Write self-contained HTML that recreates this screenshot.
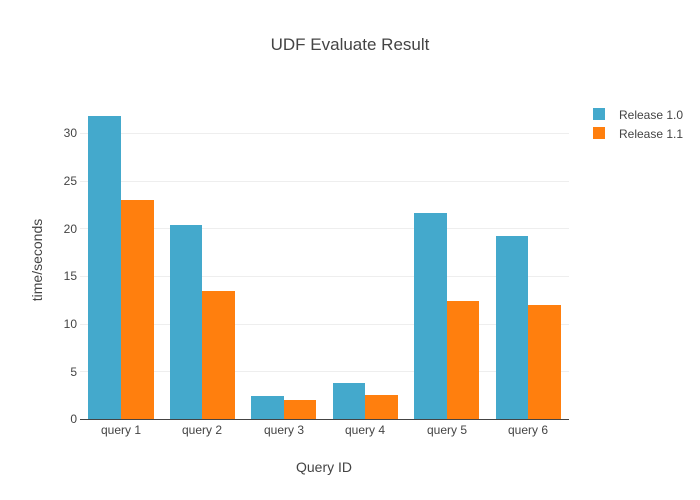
<!DOCTYPE html>
<html><head><style>body{margin:0;background:#fff}svg{display:block;font-family:"Liberation Sans",sans-serif}</style></head>
<body>
<svg width="700" height="500" xmlns="http://www.w3.org/2000/svg">
<rect width="700" height="500" fill="#fff"/>
<g stroke="#eee" stroke-width="1">
<line x1="80" x2="569" y1="371.5" y2="371.5"/>
<line x1="80" x2="569" y1="324.5" y2="324.5"/>
<line x1="80" x2="569" y1="276.5" y2="276.5"/>
<line x1="80" x2="569" y1="228.5" y2="228.5"/>
<line x1="80" x2="569" y1="181.5" y2="181.5"/>
<line x1="80" x2="569" y1="133.5" y2="133.5"/>
</g>
<g fill="#44a9cc">
<rect x="88" y="116" width="33" height="304"/>
<rect x="170" y="225" width="32" height="195"/>
<rect x="251" y="396" width="33" height="24"/>
<rect x="333" y="383" width="32" height="37"/>
<rect x="414" y="213" width="33" height="207"/>
<rect x="496" y="236" width="32" height="184"/>
</g>
<g fill="#ff7f0e">
<rect x="121" y="200" width="33" height="220"/>
<rect x="202" y="291" width="33" height="129"/>
<rect x="284" y="400" width="32" height="20"/>
<rect x="365" y="395" width="33" height="25"/>
<rect x="447" y="301" width="32" height="119"/>
<rect x="528" y="305" width="33" height="115"/>
</g>
<line x1="80" x2="569" y1="419.5" y2="419.5" stroke="#444" stroke-width="1"/>
<g font-size="12" fill="#444" text-anchor="end">
<text x="77" y="423">0</text><text x="77" y="376">5</text><text x="77" y="328">10</text>
<text x="77" y="280">15</text><text x="77" y="233">20</text><text x="77" y="185">25</text><text x="77" y="137">30</text>
</g>
<g font-size="12" fill="#444" text-anchor="middle">
<text x="121" y="434">query 1</text><text x="202" y="434">query 2</text><text x="284" y="434">query 3</text>
<text x="365" y="434">query 4</text><text x="447" y="434">query 5</text><text x="528" y="434">query 6</text>
</g>
<text x="350" y="50" font-size="17" fill="#444" text-anchor="middle">UDF Evaluate Result</text>
<text x="324" y="472" font-size="14" fill="#444" text-anchor="middle">Query ID</text>
<text transform="translate(42,260) rotate(-90)" font-size="14" fill="#444" text-anchor="middle">time/seconds</text>
<rect x="593" y="108" width="12" height="12" fill="#44a9cc"/>
<rect x="593" y="127" width="12" height="12" fill="#ff7f0e"/>
<text x="619" y="119" font-size="12" fill="#444">Release 1.0</text>
<text x="619" y="138" font-size="12" fill="#444">Release 1.1</text>
</svg>
</body></html>
